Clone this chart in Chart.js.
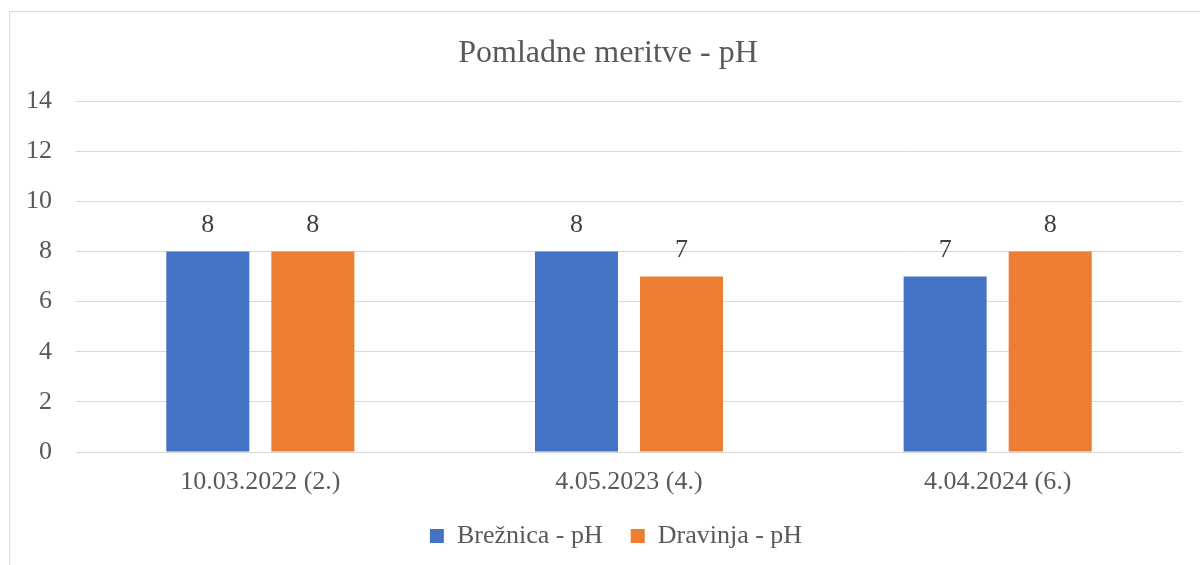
<!DOCTYPE html>
<html>
<head>
<meta charset="utf-8">
<script src="https://cdn.jsdelivr.net/npm/chart.js@4.4.1/dist/chart.umd.min.js"></script>
<style>
  html, body { margin: 0; padding: 0; background: #ffffff; }
  #wrap { position: relative; width: 1200px; height: 565px; overflow: hidden; }
  #frame { position: absolute; left: 9px; top: 11px; width: 1300px; height: 700px; border: 1px solid #d9d9d9; box-sizing: border-box; }
  canvas { position: absolute; left: 0; top: 0; }
</style>
</head>
<body>
<div id="wrap">
  <div id="frame"></div>
  <canvas id="c" width="1200" height="565"></canvas>
</div>
<script>
const categories = ['10.03.2022 (2.)', '4.05.2023 (4.)', '4.04.2024 (6.)'];
const breznica = [8, 8, 7];
const dravinja = [8, 7, 8];
const seriesNames = ['Brežnica - pH', 'Dravinja - pH'];
const titleText = 'Pomladne meritve - pH';

const FONT = '"Liberation Serif", "Times New Roman", serif';

const dataLabels = {
  id: 'dataLabels',
  afterDatasetsDraw(chart) {
    const ctx = chart.ctx;
    ctx.save();
    ctx.font = '26px ' + FONT;
    ctx.fillStyle = '#404040';
    ctx.textAlign = 'center';
    ctx.textBaseline = 'middle';
    chart.data.datasets.forEach((ds, i) => {
      chart.getDatasetMeta(i).data.forEach((bar, j) => {
        ctx.fillText(String(ds.data[j]), bar.x, bar.y - 26);
      });
    });
    ctx.restore();
  }
};

// Nudge the legend and title boxes to sit where the reference places them
const blockPlacer = {
  id: 'blockPlacer',
  afterLayout(chart) {
    const lg = chart.legend;
    if (lg) {
      const dx = 25;
      const dy = 495 - lg.top;
      lg.left += dx; lg.right += dx;
      lg.top += dy; lg.bottom += dy;
    }
    const tb = chart.titleBlock;
    if (tb) {
      tb.left += 17; tb.right += 17;
    }
  }
};

new Chart(document.getElementById('c'), {
  type: 'bar',
  data: {
    labels: categories,
    datasets: [
      { label: seriesNames[0], data: breznica, backgroundColor: '#4472c4' },
      { label: seriesNames[1], data: dravinja, backgroundColor: '#ed7d31' }
    ]
  },
  options: {
    responsive: false,
    animation: false,
    devicePixelRatio: 1,
    categoryPercentage: 0.57,
    barPercentage: 0.79,
    layout: { padding: { left: 0, right: 18, top: 0, bottom: 0 } },
    plugins: {
      tooltip: { enabled: false },
      title: {
        display: true,
        text: titleText,
        color: '#595959',
        font: { family: FONT, size: 32, weight: 'normal' },
        padding: { top: 34, bottom: 28.6 }
      },
      legend: {
        display: true,
        position: 'bottom',
        labels: {
          color: '#595959',
          font: { family: FONT, size: 26 },
          boxWidth: 14,
          boxHeight: 14,
          padding: 28
        }
      }
    },
    scales: {
      x: {
        grid: { display: false },
        border: { display: false },
        ticks: { color: '#595959', font: { family: FONT, size: 26 }, padding: 7 },
        afterFit(scale) { scale.height = 49; }
      },
      y: {
        min: 0, max: 14,
        ticks: { stepSize: 2, color: '#595959', font: { family: FONT, size: 26 }, padding: 24 },
        grid: { color: '#d9d9d9', lineWidth: 1, drawTicks: false },
        border: { display: false },
        afterFit(scale) { scale.width = 76; }
      }
    }
  },
  plugins: [dataLabels, blockPlacer]
});
</script>
</body>
</html>
